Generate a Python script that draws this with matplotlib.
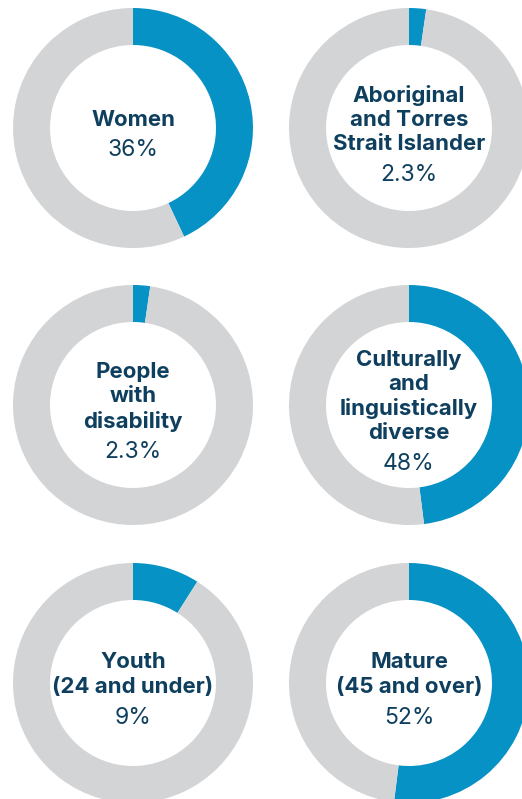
import matplotlib.pyplot as plt

# share shown by each blue arc (read from the arcs), and the printed labels
labels = ['Women', 'Aboriginal\nand Torres\nStrait Islander', 'People\nwith\ndisability',
          'Culturally\nand\nlinguistically\ndiverse', 'Youth\n(24 and under)', 'Mature\n(45 and over)']
value_text = ['36%', '2.3%', '2.3%', '48%', '9%', '52%']
arc_pct = [43, 2.3, 2.3, 48, 9, 52]

W, H = 522, 799
BLUE = '#0792c5'
GREY = '#d3d4d6'
NAVY = '#0e3f5e'

# donut centres in pixel coordinates (x from left, y from top)
centres = [(133, 128), (409, 128), (133, 405), (409, 405), (133, 683), (409, 683)]
R_OUT, RING = 120, 37
LINE = 24.5
GAP = 31

fig = plt.figure(figsize=(W / 100, H / 100), dpi=100)
ax = fig.add_axes([0, 0, 1, 1])

for (cx, cy), lab, txt, pct in zip(centres, labels, value_text, arc_pct):
    ax.pie([pct, 100 - pct], colors=[BLUE, GREY], startangle=90, counterclock=False,
           center=(cx, H - cy), radius=R_OUT,
           wedgeprops=dict(width=RING, linewidth=0, antialiased=True))

    lines = lab.split('\n')
    total = (len(lines) - 1) * LINE + GAP
    y0 = cy + 7 - total / 2
    for i, ln in enumerate(lines):
        ax.text(cx, H - (y0 + i * LINE), ln, ha='center', va='center',
                fontsize=16, fontweight='bold', color=NAVY, family='Inter')
    ax.text(cx, H - (y0 + (len(lines) - 1) * LINE + GAP), txt, ha='center', va='center',
            fontsize=16.5, color=NAVY, family='Inter')

ax.set_xlim(0, W)
ax.set_ylim(0, H)
ax.set_aspect('equal')
ax.axis('off')

fig.savefig('out.png', dpi=100, facecolor='white')
